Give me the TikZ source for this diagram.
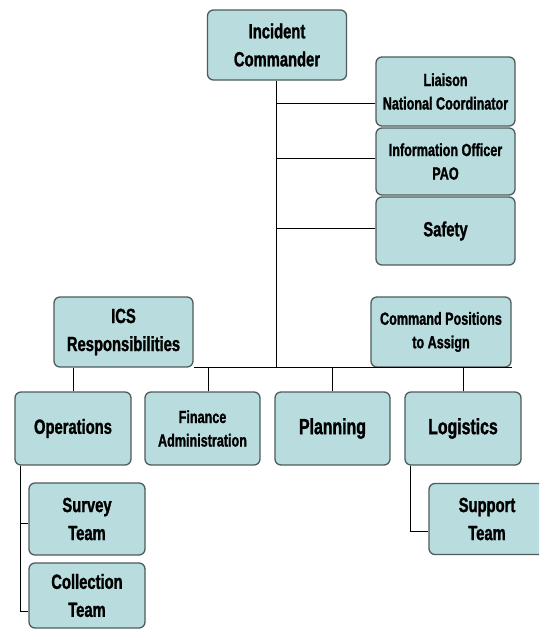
\documentclass[tikz,border=0pt]{standalone}
\usepackage{fontspec}
\setmainfont{Liberation Sans}[FakeStretch=0.72, BoldFeatures={FakeBold=1.3}]
\definecolor{boxfill}{RGB}{185,221,223}
\definecolor{boxborder}{RGB}{78,92,92}
\begin{document}
\begin{tikzpicture}[x=1pt,y=-1pt,
  orgbox/.style={draw=boxborder, line width=1.3pt, fill=boxfill, rounded corners=6pt,
    align=center, inner sep=0pt, text=black,
    font=\bfseries\fontsize{20.5}{28}\selectfont},
  smalltext/.style={font=\bfseries\fontsize{17.5}{23.5}\selectfont},
  bigtext/.style={font=\bfseries\fontsize{22}{28}\selectfont},
  wide/.style={minimum width=139pt},
  narrow/.style={minimum width=116pt},
  link/.style={draw=black, line width=0.9pt}]
\fill[white] (0,0) rectangle (539,629);
\useasboundingbox (0,0) rectangle (539,629);
\clip (0,0) rectangle (539,629);

% top
\node[orgbox, wide, minimum height=70pt] (ic) at (277,45) {Incident\\Commander};
\node[orgbox, wide, minimum height=69pt, smalltext] (liaison) at (445.5,91.5) {Liaison\\National Coordinator};
\node[orgbox, wide, minimum height=67pt, smalltext] (info) at (445.5,161.5) {Information Officer\\PAO};
\node[orgbox, wide, minimum height=68pt] (safety) at (445.5,231) {Safety};

% middle
\node[orgbox, wide, minimum height=70pt] (ics) at (123.5,332) {ICS\\Responsibilities};
\node[orgbox, minimum width=140pt, minimum height=70pt, smalltext] (cmd) at (441,332) {Command Positions\\to Assign};

% sections
\node[orgbox, narrow, minimum height=73pt] (ops) at (73,428.5) {Operations};
\node[orgbox, minimum width=115pt, minimum height=73pt, smalltext] (fin) at (202.5,428.5) {Finance\\Administration};
\node[orgbox, minimum width=115pt, minimum height=73pt, bigtext] (plan) at (332.5,428.5) {Planning};
\node[orgbox, narrow, minimum height=73pt, bigtext] (log) at (463,428.5) {Logistics};

% teams
\node[orgbox, narrow, minimum height=72pt] (survey) at (87,519) {Survey\\Team};
\node[orgbox, narrow, minimum height=65pt] (coll) at (87,595.5) {Collection\\Team};
\node[orgbox, narrow, minimum height=71pt] (support) at (487,519) {Support\\Team};

% connectors
\coordinate (hl) at (276,367);
\draw[link] ([xshift=-1pt]ic.south) -- (hl);
\path ([yshift=-11.5pt]liaison.west) coordinate (l1);
\path ([yshift=3.5pt]info.west) coordinate (l2);
\path ([yshift=3pt]safety.west) coordinate (l3);
\draw[link] (l1) -- (hl |- l1);
\draw[link] (l2) -- (hl |- l2);
\draw[link] (l3) -- (hl |- l3);
\draw[link] (ics.south east) -- (cmd.south east);
\draw[link] (ops.north |- ics.south) -- (ops.north);
\draw[link] ([xshift=5.5pt]fin.north |- ics.south) -- ([xshift=5.5pt]fin.north);
\draw[link] (plan.north |- ics.south) -- (plan.north);
\draw[link] (log.north |- ics.south) -- (log.north);
% operations teams
\coordinate (os) at ([xshift=6pt]ops.south west);
\path ([yshift=-4pt]survey.west) coordinate (s1);
\path ([yshift=-15.5pt]coll.west) coordinate (s2);
\draw[link] (os) |- (s2);
\draw[link] (os |- s1) -- (s1);
% logistics team
\coordinate (ls) at ([xshift=6pt]log.south west);
\path ([yshift=-12pt]support.west) coordinate (s3);
\draw[link] (ls) |- (s3);
\end{tikzpicture}
\end{document}
